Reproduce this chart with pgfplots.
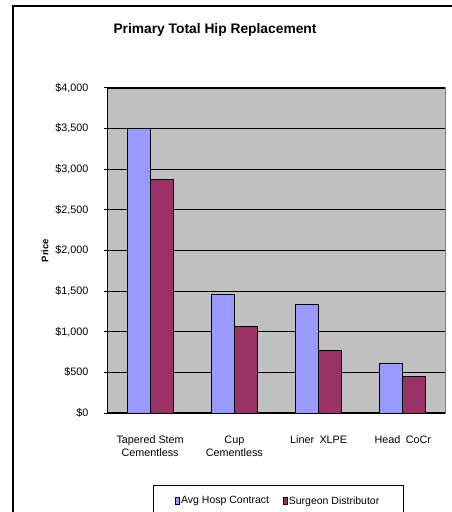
\documentclass[border=0pt]{standalone}
\usepackage{pgfplots}
\pgfplotsset{compat=1.18}
\usepackage{fontspec}
\setmainfont{Liberation Sans}
\definecolor{hospblue}{HTML}{9999FF}
\definecolor{surgred}{HTML}{993366}
\definecolor{plotgray}{HTML}{C0C0C0}
\definecolor{bordergray}{HTML}{808080}
\begin{document}
\begin{tikzpicture}
\useasboundingbox (0,0) rectangle (452pt,512pt);
% outer chart frame (continues past the page edge)
\draw[line width=1.5pt] (13pt,-5pt) -- (13pt,506pt) -- (460pt,506pt);
\node[font=\bfseries\fontsize{13.8}{15}\selectfont] at (215pt,482pt) {Primary Total Hip Replacement};
\begin{axis}[
  at={(108pt,99pt)}, anchor=south west,
  scale only axis, width=337pt, height=325pt,
  xmin=-0.5, xmax=3.5, ymin=0, ymax=4000,
  axis lines=left, axis line style={-, line width=1pt, black},
  axis background/.style={fill=plotgray, draw=bordergray, line width=1pt},
  ybar, bar width=23pt,
  ytick={0,500,...,4000},
  yticklabels={\$0,\$500,{\$1,000},{\$1,500},{\$2,000},{\$2,500},{\$3,000},{\$3,500},{\$4,000}},
  ymajorgrids, grid style={black, line width=1.2pt},
  tick align=outside, major tick length=4pt,
  tick style={black, line width=1pt},
  yticklabel style={font=\fontsize{10.8}{12}\selectfont, xshift=-12pt},
  xtick={0,1,2,3},
  xticklabels={{Tapered Stem\\Cementless},{Cup\\Cementless},{Liner\enspace XLPE},{Head\enspace CoCr}},
  xticklabel style={font=\fontsize{10.8}{13}\selectfont, align=center, anchor=north, yshift=-15pt},
  xtick style={draw=none},
  extra x ticks={-0.5,0.5,1.5,2.5,3.5},
  extra x tick labels={},
  extra x tick style={tick style={draw=black, line width=1pt}, grid=none},
  ylabel={Price},
  ylabel style={font=\bfseries\fontsize{9.5}{10}\selectfont, at={(axis description cs:-0.187,0.5)}, anchor=center},
  legend style={at={(axis description cs:0.504,-0.271)}, anchor=center, draw=none, fill=none,
    legend columns=2, font=\fontsize{10.5}{11}\selectfont,
    nodes={inner xsep=1pt},
    /tikz/every even column/.style={column sep=13pt}},
  legend image code/.code={\draw[#1, line width=0.8pt] (0pt,-3pt) rectangle (4pt,4pt);},
]
\addplot[draw=black, line width=1pt, fill=hospblue, bar shift=-11.5pt]
  coordinates {(0,3500) (1,1460) (2,1340) (3,605)};
\addplot[draw=black, line width=1pt, fill=surgred, bar shift=11.5pt]
  coordinates {(0,2875) (1,1065) (2,775) (3,455)};
\legend{Avg Hosp Contract, Surgeon Distributor}
\end{axis}
% legend box (runs off the bottom of the page)
\draw[line width=1pt] (153pt,-10pt) rectangle (403pt,26pt);
\end{tikzpicture}
\end{document}
